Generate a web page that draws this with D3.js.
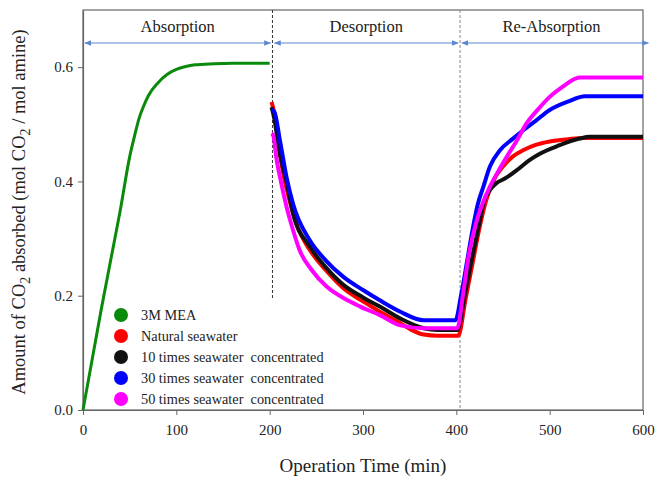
<!DOCTYPE html>
<html>
<head>
<meta charset="utf-8">
<script src="https://cdn.jsdelivr.net/npm/d3@7"></script>
<style>
  body { margin: 0; background: #fff; }
  text { font-family: "Liberation Serif", "Times New Roman", serif; fill: #222; }
</style>
</head>
<body>
<div id="chart"></div>
<script>
// ---- data ----
var meaT = [0, 10, 20, 30, 40, 50, 55, 60, 65, 70, 80, 90, 100, 110, 120, 140, 160, 200]
var meaV = [0, 0.09, 0.18, 0.265, 0.35, 0.443, 0.478, 0.51, 0.532, 0.55, 0.572, 0.587, 0.596, 0.601, 0.604, 0.606, 0.607, 0.607]

var natT = [202, 205, 210, 215, 220, 225, 230, 243, 260, 279, 300, 318, 340, 350, 365, 380, 402,
            410, 418, 425, 432, 440, 450, 460, 472, 485, 500, 520, 536, 600]
var natV = [0.539, 0.52, 0.46, 0.41, 0.375, 0.345, 0.32, 0.28, 0.245, 0.213, 0.19, 0.172, 0.152, 0.142, 0.132, 0.130, 0.130,
            0.195, 0.262, 0.32, 0.367, 0.402, 0.426, 0.443, 0.455, 0.464, 0.47, 0.474, 0.476, 0.476]

var x10T = [202, 205, 210, 218, 225, 243, 260, 279, 300, 318, 340, 365, 380, 401,
            410, 418, 425, 429, 436, 443, 452, 465, 478, 490, 510, 532, 543, 600]
var x10V = [0.53, 0.51, 0.455, 0.40, 0.344, 0.286, 0.25, 0.219, 0.197, 0.181, 0.16, 0.143, 0.14, 0.14,
            0.21, 0.275, 0.33, 0.362, 0.385, 0.397, 0.405, 0.42, 0.437, 0.449, 0.463, 0.475, 0.478, 0.478]

var x30T = [202, 205, 211, 218, 225, 243, 260, 279, 300, 318, 340, 365, 399,
            405, 412, 418, 423, 429, 436, 447, 460, 472, 485, 500, 520, 538, 600]
var x30V = [0.525, 0.522, 0.472, 0.408, 0.361, 0.297, 0.262, 0.233, 0.21, 0.192, 0.172, 0.157, 0.157,
            0.2, 0.265, 0.321, 0.36, 0.391, 0.426, 0.455, 0.474, 0.49, 0.506, 0.525, 0.54, 0.549, 0.549]

var x50T = [202, 204, 207, 212, 218, 225, 232, 245, 261, 280, 297, 318, 340, 365, 401,
            407, 413, 422, 429, 436, 445, 454, 465, 475, 488, 500, 515, 525, 532, 600]
var x50V = [0.484, 0.48, 0.443, 0.40, 0.356, 0.315, 0.28, 0.245, 0.216, 0.195, 0.181, 0.166, 0.148, 0.143, 0.143,
            0.2, 0.268, 0.332, 0.365, 0.391, 0.418, 0.443, 0.472, 0.501, 0.527, 0.548, 0.567, 0.578, 0.582, 0.582]

var seriesNames = ['3M MEA', 'Natural seawater', '10 times seawater  concentrated',
                   '30 times seawater  concentrated', '50 times seawater  concentrated']
var seriesColors = ['#0a8a0a', '#ff0000', '#111111', '#0000ff', '#ff00ff']
var seriesT = [meaT, natT, x10T, x30T, x50T]
var seriesV = [meaV, natV, x10V, x30V, x50V]

var xTicks = [0, 100, 200, 300, 400, 500, 600]
var yTicks = [0, 0.2, 0.4, 0.6]

var stages = ['Absorption', 'Desorption', 'Re-Absorption']
var stageStart = [0, 203, 404]
var stageEnd = [203, 404, 608]

// ---- drawing ----
var W = 671, H = 479
var mL = 83, mR = 643, mT = 10, mB = 410

var svg = d3.select('#chart').append('svg')
  .attr('width', W)
  .attr('height', H)

var x = d3.scaleLinear().domain([0, 600]).range([mL, mR])
var y = d3.scaleLinear().domain([0, 0.7]).range([mB, mT])

var axisCol = '#666'

// frame
svg.append('rect')
  .attr('x', mL).attr('y', mT)
  .attr('width', mR - mL).attr('height', mB - mT)
  .attr('fill', 'none').attr('stroke', axisCol).attr('stroke-width', 1.2)

var gx = svg.append('g')
  .attr('transform', 'translate(0,' + mB + ')')
  .call(d3.axisBottom(x).tickValues(xTicks).tickSize(5).tickSizeOuter(0).tickPadding(9))
var gy = svg.append('g')
  .attr('transform', 'translate(' + mL + ',0)')
  .call(d3.axisLeft(y).tickValues(yTicks).tickFormat(d3.format('.1f')).tickSize(5).tickSizeOuter(0).tickPadding(5))

svg.selectAll('.domain').attr('stroke', axisCol).attr('stroke-width', 1.2)
svg.selectAll('.tick line').attr('stroke', axisCol)
svg.selectAll('.tick text').style('font-size', '15px').attr('fill', '#222')

// stage separators
svg.append('line')
  .attr('x1', x(stageStart[1])).attr('x2', x(stageStart[1]))
  .attr('y1', mT).attr('y2', 300)
  .attr('stroke', '#333').attr('stroke-dasharray', '3,2').attr('stroke-width', 1)
svg.append('line')
  .attr('x1', x(stageStart[2])).attr('x2', x(stageStart[2]))
  .attr('y1', mT).attr('y2', mB)
  .attr('stroke', '#888').attr('stroke-dasharray', '3,2').attr('stroke-width', 1)

// double headed arrows
var arrowCol = '#5b87d0'
var defs = svg.append('defs')
defs.append('marker').attr('id', 'ah').attr('viewBox', '0 0 10 10')
  .attr('refX', 9).attr('refY', 5).attr('markerWidth', 7).attr('markerHeight', 7)
  .attr('orient', 'auto-start-reverse')
  .append('path').attr('d', 'M0,1 L10,5 L0,9 Z').attr('fill', arrowCol)

var ay = 43
stages.forEach(function(s, i){
  svg.append('line')
    .attr('x1', x(stageStart[i]) + 2).attr('x2', x(stageEnd[i]) - 2)
    .attr('y1', ay).attr('y2', ay)
    .attr('stroke', arrowCol).attr('stroke-width', 1)
    .attr('marker-start', 'url(#ah)').attr('marker-end', 'url(#ah)')
  svg.append('text')
    .attr('x', (x(stageStart[i]) + x(Math.min(stageEnd[i], 600))) / 2)
    .attr('y', 32)
    .attr('text-anchor', 'middle')
    .style('font-size', '16.5px')
    .text(s)
})

// series
var line = d3.line()
  .x(function(d){ return x(d[0]) })
  .y(function(d){ return y(d[1]) })
  .curve(d3.curveMonotoneX)

seriesNames.forEach(function(n, i){
  var pts = seriesT[i].map(function(t, j){ return [t, seriesV[i][j]] })
  svg.append('path')
    .datum(pts)
    .attr('d', line)
    .attr('fill', 'none')
    .attr('stroke', seriesColors[i])
    .attr('stroke-width', i == 0 ? 3 : 4)
    .attr('stroke-linejoin', 'round')
})

// legend
var leg = svg.append('g')
seriesNames.forEach(function(n, i){
  var ly = 315 + i * 21
  leg.append('circle').attr('cx', 121).attr('cy', ly).attr('r', 7).attr('fill', seriesColors[i])
  leg.append('text').attr('x', 141).attr('y', ly + 5)
    .style('font-size', '14.3px').style('white-space', 'pre')
    .text(n)
})

// axis titles
svg.append('text')
  .attr('x', (mL + mR) / 2).attr('y', 472)
  .attr('text-anchor', 'middle')
  .style('font-size', '19px')
  .text('Operation Time (min)')

var yt = svg.append('text')
  .attr('transform', 'translate(25,212) rotate(-90)')
  .attr('text-anchor', 'middle')
  .style('font-size', '18.5px')
yt.append('tspan').text('Amount of CO')
yt.append('tspan').attr('dy', 5).style('font-size', '14px').text('2')
yt.append('tspan').attr('dy', -5).text(' absorbed (mol CO')
yt.append('tspan').attr('dy', 5).style('font-size', '14px').text('2')
yt.append('tspan').attr('dy', -5).text(' / mol amine)')
</script>
</body>
</html>
